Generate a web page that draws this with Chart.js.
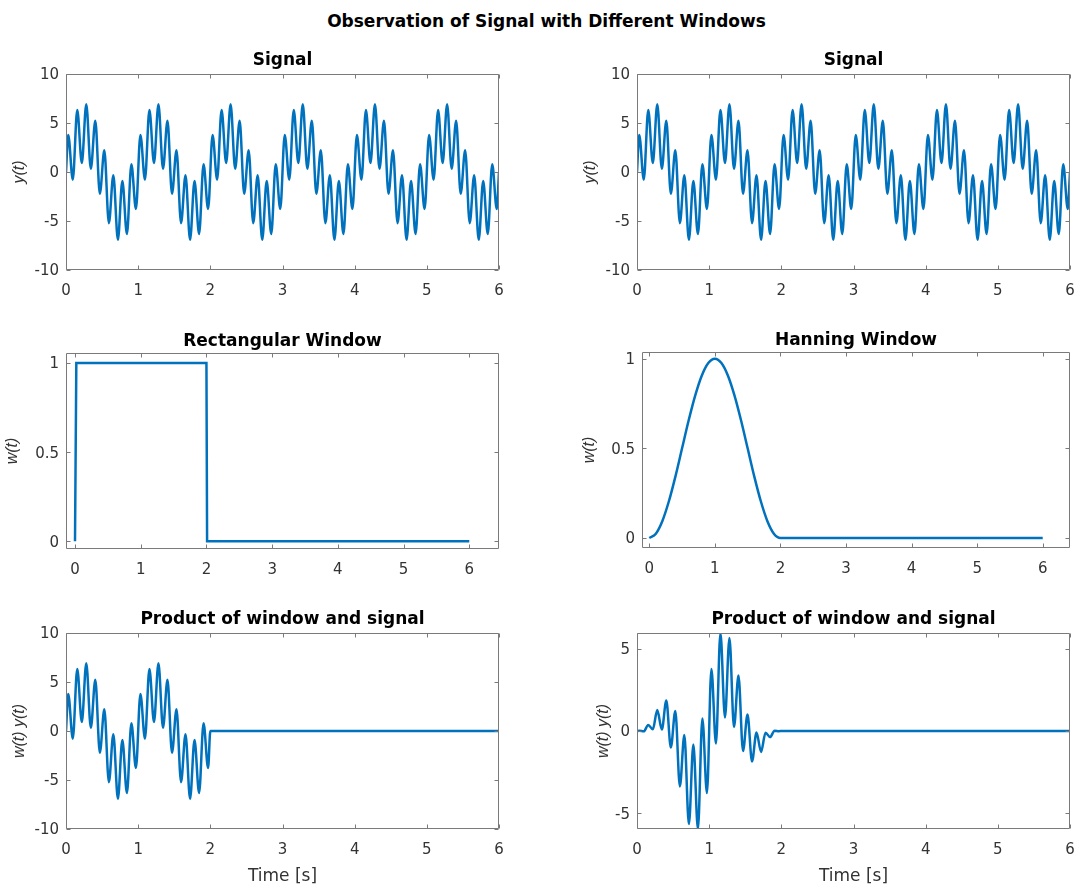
<!DOCTYPE html>
<html>
<head>
<meta charset="utf-8">
<title>Observation of Signal with Different Windows</title>
<script src="https://cdn.jsdelivr.net/npm/chart.js@4.4.1/dist/chart.umd.min.js"></script>
<style>
  body { margin: 0; background: #fff; }
  #fig { position: relative; width: 1078px; height: 888px; overflow: hidden; }
  #fig canvas { position: absolute; }
  #suptitle {
    position: absolute; left: 0; top: 11px; width: 1093px;
    text-align: center; color: #000;
    font: bold 17px "DejaVu Sans"; line-height: 20px;
  }
</style>
</head>
<body>
<div id="fig">
  <div id="suptitle">Observation of Signal with Different Windows</div>
  <canvas id="c1"></canvas>
  <canvas id="c2"></canvas>
  <canvas id="c3"></canvas>
  <canvas id="c4"></canvas>
  <canvas id="c5"></canvas>
  <canvas id="c6"></canvas>
</div>
<script>
// signal y(t): times of the peaks / troughs (s) and their values
const tSignal = [0,
  0.031, 0.094, 0.156, 0.219, 0.281, 0.344, 0.406, 0.469, 0.531, 0.594, 0.656, 0.719, 0.781, 0.844, 0.906, 0.969,
  1.031, 1.094, 1.156, 1.219, 1.281, 1.344, 1.406, 1.469, 1.531, 1.594, 1.656, 1.719, 1.781, 1.844, 1.906, 1.969,
  2.031, 2.094, 2.156, 2.219, 2.281, 2.344, 2.406, 2.469, 2.531, 2.594, 2.656, 2.719, 2.781, 2.844, 2.906, 2.969,
  3.031, 3.094, 3.156, 3.219, 3.281, 3.344, 3.406, 3.469, 3.531, 3.594, 3.656, 3.719, 3.781, 3.844, 3.906, 3.969,
  4.031, 4.094, 4.156, 4.219, 4.281, 4.344, 4.406, 4.469, 4.531, 4.594, 4.656, 4.719, 4.781, 4.844, 4.906, 4.969,
  5.031, 5.094, 5.156, 5.219, 5.281, 5.344, 5.406, 5.469, 5.531, 5.594, 5.656, 5.719, 5.781, 5.844, 5.906, 5.969,
  6];
const ySignal = [0,
  3.78, -0.78, 6.33, 0.92, 6.92, 0.33, 5.22, -2.22, 2.22, -5.22, -0.33, -6.92, -0.92, -6.33, 0.78, -3.78,
  3.78, -0.78, 6.33, 0.92, 6.92, 0.33, 5.22, -2.22, 2.22, -5.22, -0.33, -6.92, -0.92, -6.33, 0.78, -3.78,
  3.78, -0.78, 6.33, 0.92, 6.92, 0.33, 5.22, -2.22, 2.22, -5.22, -0.33, -6.92, -0.92, -6.33, 0.78, -3.78,
  3.78, -0.78, 6.33, 0.92, 6.92, 0.33, 5.22, -2.22, 2.22, -5.22, -0.33, -6.92, -0.92, -6.33, 0.78, -3.78,
  3.78, -0.78, 6.33, 0.92, 6.92, 0.33, 5.22, -2.22, 2.22, -5.22, -0.33, -6.92, -0.92, -6.33, 0.78, -3.78,
  3.78, -0.78, 6.33, 0.92, 6.92, 0.33, 5.22, -2.22, 2.22, -5.22, -0.33, -6.92, -0.92, -6.33, 0.78, -3.78,
  0];

// rectangular window w(t)
const tRect = [0, 0.02, 2.0, 2.01, 6];
const wRect = [0, 1, 1, 0, 0];

// hanning window w(t)
const tHann = [0, 0.1, 0.2, 0.3, 0.4, 0.5, 0.6, 0.7, 0.8, 0.9, 1.0,
  1.1, 1.2, 1.3, 1.4, 1.5, 1.6, 1.7, 1.8, 1.9, 2.0, 6];
const wHann = [0, 0.024, 0.095, 0.206, 0.345, 0.5, 0.655, 0.794, 0.905, 0.976, 1,
  0.976, 0.905, 0.794, 0.655, 0.5, 0.345, 0.206, 0.095, 0.024, 0, 0];

// products w(t) y(t), sampled at the same extrema up to t = 2 s
const tProd = [0,
  0.031, 0.094, 0.156, 0.219, 0.281, 0.344, 0.406, 0.469, 0.531, 0.594, 0.656, 0.719, 0.781, 0.844, 0.906, 0.969,
  1.031, 1.094, 1.156, 1.219, 1.281, 1.344, 1.406, 1.469, 1.531, 1.594, 1.656, 1.719, 1.781, 1.844, 1.906, 1.969,
  2.0, 6];
const yRectProd = [0,
  3.78, -0.78, 6.33, 0.92, 6.92, 0.33, 5.22, -2.22, 2.22, -5.22, -0.33, -6.92, -0.92, -6.33, 0.78, -3.78,
  3.78, -0.78, 6.33, 0.92, 6.92, 0.33, 5.22, -2.22, 2.22, -5.22, -0.33, -6.92, -0.92, -6.33, 0.78, -3.78,
  0, 0];
const yHannProd = [0,
  0.01, -0.02, 0.37, 0.10, 1.27, 0.09, 1.85, -1.00, 1.22, -3.37, -0.24, -5.66, -0.82, -5.96, 0.76, -3.77,
  3.77, -0.76, 5.96, 0.82, 5.66, 0.24, 3.37, -1.22, 1.00, -1.85, -0.09, -1.27, -0.10, -0.37, 0.02, -0.01,
  0, 0];

const LINE = '#0072BD';
const AXIS = '#7a7a7a';
const TEXT = '#333333';
const Y_AXIS_W = 70, RIGHT_PAD = 10, X_AXIS_H = 60;

function points(ts, vs) {
  return ts.map((t, i) => ({x: t, y: vs[i]}));
}

// axes box with inward tick marks on all four sides
const frame = {
  id: 'frame',
  afterDatasetsDraw(chart) {
    const {ctx, chartArea: a, scales: {x, y}} = chart;
    const L = Math.round(a.left) + 0.5, R = Math.round(a.right) - 0.5;
    const T = Math.round(a.top) + 0.5, B = Math.round(a.bottom) - 0.5;
    ctx.save();
    ctx.strokeStyle = AXIS;
    ctx.lineWidth = 1;
    ctx.beginPath();
    x.ticks.forEach(tk => {
      const px = Math.round(x.getPixelForValue(tk.value)) + 0.5;
      ctx.moveTo(px, B); ctx.lineTo(px, B - 4);
      ctx.moveTo(px, T); ctx.lineTo(px, T + 4);
    });
    y.ticks.forEach(tk => {
      const py = Math.round(y.getPixelForValue(tk.value)) + 0.5;
      ctx.moveTo(L, py); ctx.lineTo(L + 4, py);
      ctx.moveTo(R, py); ctx.lineTo(R - 4, py);
    });
    ctx.rect(L, T, R - L, B - T);
    ctx.stroke();
    ctx.restore();
  }
};

function subplot(id, o) {
  const titleH = 4 + 20 + (o.titleGap - 10);
  const cv = document.getElementById(id);
  cv.width = Y_AXIS_W + o.box.w + RIGHT_PAD;
  cv.height = titleH + o.box.h + X_AXIS_H;
  cv.style.left = (o.box.left - Y_AXIS_W) + 'px';
  cv.style.top = (o.box.top - titleH) + 'px';

  const tickFont = {family: 'DejaVu Sans', size: 15};
  return new Chart(cv, {
    type: 'line',
    data: {
      datasets: [{
        data: o.data,
        borderColor: LINE,
        borderWidth: 2.5,
        pointRadius: 0,
        fill: false,
        tension: 0,
        cubicInterpolationMode: o.smooth ? 'monotone' : 'default'
      }]
    },
    options: {
      responsive: false,
      animation: false,
      devicePixelRatio: 1,
      layout: {padding: {left: 0, top: 0, right: RIGHT_PAD, bottom: 0}},
      plugins: {
        legend: {display: false},
        tooltip: {enabled: false},
        title: {
          display: true,
          fullSize: false,
          text: o.title,
          color: '#000',
          font: {family: 'DejaVu Sans', size: 17, weight: 'bold', lineHeight: '20px'},
          padding: {top: 4, bottom: o.titleGap - 10}
        }
      },
      scales: {
        x: {
          type: 'linear',
          min: o.xMin,
          max: o.xMax,
          afterFit: s => { s.height = X_AXIS_H; s.paddingLeft = 0; s.paddingRight = 0; },
          grid: {display: false, drawTicks: false},
          border: {display: false},
          ticks: {
            stepSize: 1, includeBounds: false, autoSkip: false, maxRotation: 0,
            color: TEXT, padding: 12, font: tickFont,
            callback: v => String(v)
          },
          title: {
            display: !!o.xLabel,
            text: o.xLabel || '',
            color: TEXT,
            font: {family: 'DejaVu Sans', size: 17, lineHeight: '20px'},
            padding: {top: 0, bottom: 2}
          }
        },
        y: {
          type: 'linear',
          min: o.yMin,
          max: o.yMax,
          afterFit: s => { s.width = Y_AXIS_W; s.paddingTop = 0; s.paddingBottom = 0; },
          grid: {display: false, drawTicks: false},
          border: {display: false},
          ticks: {
            stepSize: o.yStep, includeBounds: false, autoSkip: false,
            color: TEXT, padding: 7, labelOffset: 1.5, font: tickFont,
            callback: v => String(v)
          },
          title: {
            display: true,
            text: o.yLabel,
            color: TEXT,
            font: {family: 'Liberation Sans', style: 'italic', size: 16, lineHeight: '20px'},
            padding: {top: Y_AXIS_W - o.yLabelGap - 10, bottom: 0}
          }
        }
      }
    },
    plugins: [frame]
  });
}

// top row: the raw signal
subplot('c1', {
  box: {left: 66, top: 74, w: 433, h: 196}, titleGap: 13, yLabelGap: 46,
  title: 'Signal', yLabel: 'y(t)',
  xMin: 0, xMax: 6, yMin: -10, yMax: 10, yStep: 5,
  data: points(tSignal, ySignal), smooth: true
});
subplot('c2', {
  box: {left: 637, top: 74, w: 433, h: 196}, titleGap: 13, yLabelGap: 46,
  title: 'Signal', yLabel: 'y(t)',
  xMin: 0, xMax: 6, yMin: -10, yMax: 10, yStep: 5,
  data: points(tSignal, ySignal), smooth: true
});

// middle row: the two windows
subplot('c3', {
  box: {left: 66, top: 353, w: 433, h: 196}, titleGap: 11, yLabelGap: 53,
  title: 'Rectangular Window', yLabel: 'w(t)',
  xMin: -0.137, xMax: 6.452, yMin: -0.043, yMax: 1.056, yStep: 0.5,
  data: points(tRect, wRect), smooth: false
});
subplot('c4', {
  box: {left: 642, top: 352, w: 428, h: 196}, titleGap: 11, yLabelGap: 52,
  title: 'Hanning Window', yLabel: 'w(t)',
  xMin: -0.111, xMax: 6.416, yMin: -0.056, yMax: 1.037, yStep: 0.5,
  data: points(tHann, wHann), smooth: true
});

// bottom row: windowed signal
subplot('c5', {
  box: {left: 66, top: 633, w: 433, h: 196}, titleGap: 13, yLabelGap: 46,
  title: 'Product of window and signal', yLabel: 'w(t) y(t)', xLabel: 'Time [s]',
  xMin: 0, xMax: 6, yMin: -10, yMax: 10, yStep: 5,
  data: points(tProd, yRectProd), smooth: true
});
subplot('c6', {
  box: {left: 637, top: 633, w: 433, h: 196}, titleGap: 13, yLabelGap: 33,
  title: 'Product of window and signal', yLabel: 'w(t) y(t)', xLabel: 'Time [s]',
  xMin: 0, xMax: 6, yMin: -5.96, yMax: 5.96, yStep: 5,
  data: points(tProd, yHannProd), smooth: true
});
</script>
</body>
</html>
